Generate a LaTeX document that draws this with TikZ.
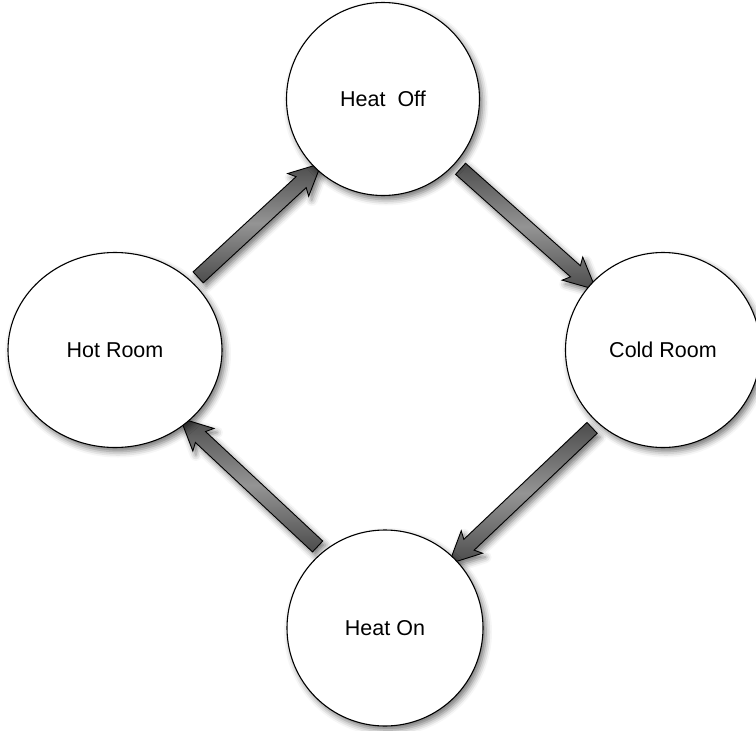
\documentclass[tikz,border=0pt]{standalone}
\usepackage{fontspec}
\setmainfont{Liberation Sans}
\usetikzlibrary{calc,shapes.geometric,shapes.arrows,shadows.blur}

\tikzset{
  softshadow/.style={blur shadow={shadow xshift=3pt, shadow yshift=-4pt,
      shadow blur radius=6pt, shadow opacity=55}},
  state/.style={draw=black, line width=1.1pt, fill=white, softshadow,
      font=\fontsize{21.5}{25}\selectfont, inner sep=0pt},
  flowarrow/.style={single arrow, draw=black, line width=0.9pt,
      top color=black!70, bottom color=black!70, middle color=black!42,
      inner xsep=0pt, inner ysep=7pt, single arrow head extend=8pt,
      single arrow tip angle=52, single arrow head indent=4pt,
      softshadow},
}

% block arrow from one named point to another
\newcommand\blockarrow[2]{%
  \path let \p1=($(#2)-(#1)$), \n1={atan2(\y1,\x1)}, \n2={veclen(\x1,\y1)} in
    node[flowarrow, rotate=\n1, minimum height=\n2] at ($(#1)!0.5!(#2)$) {};}

\begin{document}
\begin{tikzpicture}[x=1pt, y=-1pt]
  \useasboundingbox (0,0) rectangle (756,731);

  % state positions (drawn after the arrows)
  \path (383,99)  coordinate (pOff)
        (663,350) coordinate (pCold)
        (385,628) coordinate (pOn)
        (115,350) coordinate (pHot);

  % invisible borders used to anchor the arrows
  \node[circle, minimum size=193pt, inner sep=0pt] (bOff)  at (pOff)  {};
  \node[circle, minimum size=195pt, inner sep=0pt] (bCold) at (pCold) {};
  \node[circle, minimum size=196pt, inner sep=0pt] (bOn)   at (pOn)   {};
  \node[ellipse, minimum width=214pt, minimum height=195pt, inner sep=0pt] (bHot) at (pHot) {};

  \coordinate (a1) at (bHot.41);   \coordinate (b1) at (bOff.226);
  \coordinate (a2) at (bOff.318);  \coordinate (b2) at (bCold.138);
  \coordinate (a3) at (bCold.228); \coordinate (b3) at (bOn.45);
  \coordinate (a4) at (bOn.129);   \coordinate (b4) at (bHot.314);

  \blockarrow{a1}{b1}
  \blockarrow{a2}{b2}
  \blockarrow{a3}{b3}
  \blockarrow{a4}{b4}

  \node[state, circle, minimum size=193pt] (off)  at (pOff)  {Heat~~Off};
  \node[state, circle, minimum size=195pt] (cold) at (pCold) {Cold Room};
  \node[state, circle, minimum size=196pt] (on)   at (pOn)   {Heat On};
  \node[state, ellipse, minimum width=214pt, minimum height=195pt] (hot) at (pHot) {Hot Room};
\end{tikzpicture}
\end{document}
